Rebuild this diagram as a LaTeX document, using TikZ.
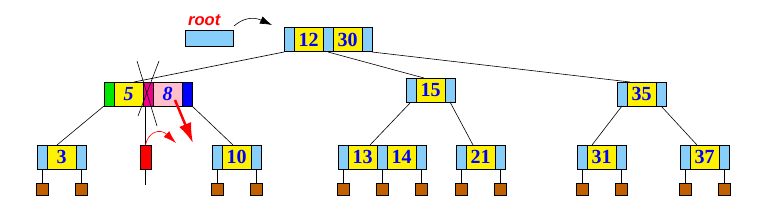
\documentclass[tikz,border=0pt]{standalone}
\usepackage{fontspec}
\setmainfont{Liberation Serif}
\setsansfont{Liberation Sans}
\usetikzlibrary{positioning,arrows.meta}
\definecolor{ptrblue}{RGB}{135,206,250}
\definecolor{leafbrown}{RGB}{192,96,0}
\definecolor{keypink}{RGB}{255,192,203}
\definecolor{keygreen}{RGB}{0,230,0}
\begin{document}
\begin{tikzpicture}[x=1pt,y=-1pt,
  cell/.style={draw, line width=1pt, inner sep=0pt, outer sep=0pt, minimum height=24pt, anchor=north west},
  ptr/.style={cell, fill=ptrblue, minimum width=10pt},
  key/.style={cell, fill=yellow, minimum width=29pt, text=blue, font=\fontsize{20}{20}\selectfont\bfseries},
  keyit/.style={key, font=\fontsize{20}{20}\selectfont\bfseries\itshape},
  leaf/.style={draw, line width=1pt, fill=leafbrown, minimum size=12pt, inner sep=0pt, outer sep=0pt},
  edge/.style={line width=0.6pt}]
  \useasboundingbox (0,0) rectangle (768,222);
  % root pointer
  \node[cell, fill=ptrblue, minimum width=48pt, minimum height=16pt] (rootptr) at (185,31) {};
  \node[anchor=base west, text=red, inner sep=0pt, font=\sffamily\bfseries\itshape\fontsize{16.5}{16.5}\selectfont] (rootlbl) at (188,26) {root};
  % root node
  \node[ptr] (ra) at (284,28) {};
  \node[key, right=0pt of ra] (k12) {12};
  \node[ptr, right=0pt of k12] (rb) {};
  \node[key, right=0pt of rb] (k30) {30};
  \node[ptr, right=0pt of k30] (rc) {};
  \draw[edge, -{Latex[length=12pt,width=8pt]}] ([xshift=1pt,yshift=5pt]rootptr.north east) .. controls (242,19) and (252,16) .. ([xshift=-12pt,yshift=3pt]ra.north west);
  % second level
  \node[cell, fill=keygreen, minimum width=10pt] (g) at (104,82) {};
  \node[keyit, right=0pt of g] (k5) {5};
  \node[cell, fill=magenta, minimum width=10pt, right=0pt of k5] (m) {};
  \node[keyit, fill=keypink, right=0pt of m] (k8) {8};
  \node[cell, fill=blue, minimum width=10pt, right=0pt of k8] (bl) {};
  \node[ptr] (pa15) at (406,78) {};
  \node[key, right=0pt of pa15] (k15) {15};
  \node[ptr, right=0pt of k15] (pb15) {};
  \node[ptr] (pa35) at (617,82) {};
  \node[key, right=0pt of pa35] (k35) {35};
  \node[ptr, right=0pt of k35] (pb35) {};
  % leaves level
  \node[ptr] (p3a) at (37,145) {};
  \node[key, right=0pt of p3a] (k3) {3};
  \node[ptr, right=0pt of k3] (p3b) {};
  \node[cell, fill=red, minimum width=11pt] (rbox) at (140,145) {};
  \node[ptr] (p10a) at (212,145) {};
  \node[key, right=0pt of p10a] (k10) {10};
  \node[ptr, right=0pt of k10] (p10b) {};
  \node[ptr] (p13a) at (338,145) {};
  \node[key, right=0pt of p13a] (k13) {13};
  \node[ptr, right=0pt of k13] (p13b) {};
  \node[key, right=0pt of p13b] (k14) {14};
  \node[ptr, right=0pt of k14] (p13c) {};
  \node[ptr] (p21a) at (456,145) {};
  \node[key, right=0pt of p21a] (k21) {21};
  \node[ptr, right=0pt of k21] (p21b) {};
  \node[ptr] (p31a) at (577,145) {};
  \node[key, right=0pt of p31a] (k31) {31};
  \node[ptr, right=0pt of k31] (p31b) {};
  \node[ptr] (p37a) at (680,145) {};
  \node[key, right=0pt of p37a] (k37) {37};
  \node[ptr, right=0pt of k37] (p37b) {};
  \foreach \p in {p3a,p3b,p10a,p10b,p13a,p13b,p13c,p21a,p21b,p31a,p31b,p37a,p37b} {
    \node[leaf, below=14pt of \p] (l-\p) {};
    \draw[line width=0.9pt] (\p.south) -- (l-\p.north);
  }
  % tree edges
  \draw[edge] (ra.south west) -- ([xshift=20pt]k5.north west);
  \draw[edge] (rb.south) -- ([xshift=8pt]k15.north west);
  \draw[edge] (rc.south east) -- ([xshift=3pt]k35.north west);
  \draw[edge] (g.south west) -- ([xshift=10pt]k3.north west);
  \draw[edge] (bl.south east) -- ([xshift=11pt]k10.north west);
  \draw[edge] (pa15.south) -- ([xshift=22pt]k13.north west);
  \draw[edge] (pb15.south) -- ([xshift=7pt]k21.north west);
  \draw[edge] (pa35.south) -- ([xshift=5pt]k31.north west);
  \draw[edge] (pb35.south) -- ([xshift=7pt]k37.north west);
  % deleted pointer
  \draw[edge] (137,61) -- (157,126);
  \draw[edge] (159,61) -- (138,116);
  \draw[edge] (rbox.north |- m.south) -- (rbox.north);
  \draw[edge] (rbox.south) -- ++(0,16);
  \draw[red, line width=0.6pt, -{Latex[length=13pt,width=8pt]}] (rbox.north) .. controls (148,132) and (160,128) .. (176,143);
  \coordinate (mv) at (193,143);
  \draw[red, line width=2.5pt, -{Latex[length=20pt,width=13pt]}] ([xshift=-7pt,yshift=6pt]k8.south east) -- (mv);
\end{tikzpicture}
\end{document}
